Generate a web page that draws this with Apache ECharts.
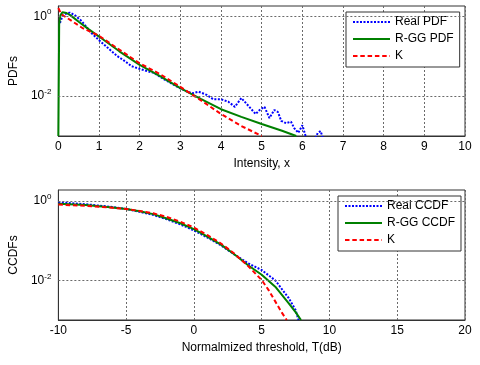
<!DOCTYPE html>
<html>
<head>
<meta charset="utf-8">
<script src="https://cdn.jsdelivr.net/npm/echarts@6.0.0/dist/echarts.min.js"></script>
<style>
    html, body {margin: 0; padding: 0; background: #fff;}
    #chart {width: 480px; height: 365px;}
</style>
</head>
<body>
<div id="chart"></div>
<script>
// PDF panel (x = intensity)
var pdfRealX = [0.04, 0.1, 0.2, 0.28, 0.4, 0.57, 0.7, 0.81, 1.0, 1.2, 1.45, 1.6, 1.8, 2.0, 2.2, 2.35, 2.6, 2.8, 3.0,
    3.15, 3.29, 3.45, 3.65, 3.81, 4.0, 4.18, 4.34, 4.5, 4.66, 4.85, 4.95, 5.07, 5.19, 5.31, 5.4, 5.48, 5.6,
    5.72, 5.8, 5.9, 6.0, 6.08, 6.15, 6.3, 6.38, 6.45, 6.52];
var pdfRealY = [0.676, 1.0, 1.175, 1.23, 1.07, 0.759, 0.525, 0.38, 0.251, 0.166, 0.1, 0.0794, 0.0562, 0.0479,
    0.0417, 0.038, 0.0263, 0.02, 0.0155, 0.0132, 0.0117, 0.0129, 0.0107, 0.0083, 0.0083, 0.00724, 0.00537,
    0.00891, 0.00589, 0.00355, 0.00447, 0.00537, 0.00282, 0.00447, 0.00398, 0.0024, 0.00209, 0.00229,
    0.00158, 0.0012, 0.00186, 0.001, 0.0007, 0.00079, 0.0012, 0.00132, 0.00079];
var pdfRggX = [0, 0.02, 0.05, 0.1, 0.2, 0.3, 0.5, 0.75, 1, 1.5, 2, 2.5, 3, 3.5, 4, 4.5, 5, 5.5, 5.85];
var pdfRggY = [0.001, 0.631, 1.047, 1.259, 1.202, 1.047, 0.724, 0.468, 0.309, 0.132, 0.0603, 0.0316, 0.0158,
    0.00851, 0.00468, 0.00302, 0.002, 0.00135, 0.001];
var pdfKX = [0, 0.05, 0.1, 0.3, 0.6, 1, 1.5, 2, 2.5, 3, 3.5, 4, 4.5, 5];
var pdfKY = [1.6, 1.26, 1.07, 0.794, 0.5, 0.324, 0.145, 0.066, 0.0355, 0.017, 0.0079, 0.00355, 0.00178, 0.001];

// CCDF panel (x = normalized threshold in dB)
var ccdfRealX = [-10, -8, -6, -5, -4, -3, -2, -1, 0, 1, 2, 3, 4, 5, 6, 7, 7.5, 7.72];
var ccdfRealY = [0.933, 0.832, 0.708, 0.631, 0.537, 0.447, 0.347, 0.257, 0.182, 0.12, 0.0759, 0.0447, 0.0269,
    0.0182, 0.01, 0.00355, 0.00178, 0.001];
var ccdfRggX = [-10, -8, -6, -5, -4, -3, -2, -1, 0, 1, 2, 3, 4, 5, 6, 7, 7.5, 7.9];
var ccdfRggY = [0.851, 0.794, 0.692, 0.631, 0.55, 0.468, 0.363, 0.275, 0.195, 0.126, 0.0794, 0.0447, 0.024,
    0.0138, 0.00692, 0.00263, 0.00158, 0.001];
var ccdfKX = [-10, -8, -6, -5, -4, -3, -2, -1, 0, 1, 2, 3, 4, 5, 5.5, 6, 6.5, 6.85];
var ccdfKY = [0.813, 0.759, 0.676, 0.631, 0.562, 0.49, 0.398, 0.302, 0.214, 0.138, 0.0851, 0.0468, 0.0229,
    0.0102, 0.00575, 0.00295, 0.00151, 0.001];

var topNames = ['Real PDF', 'R-GG PDF', 'K'];
var bottomNames = ['Real CCDF', 'R-GG CCDF', 'K'];
var logGridValues = [1, 0.01];

var fontFamily = '"Liberation Sans", Arial, sans-serif';
var gridLineStyle = {color: '#6a6a6a', type: [2, 2], width: 1};

function pairs(xs, ys) {
    var data = [];
    for (var i = 0; i < xs.length; i++) {
        data.push([xs[i], ys[i]]);
    }
    return data;
}

function lineSeries(name, idx, xs, ys, color, type, gridLines) {
    var s = {
        name: name,
        type: 'line',
        xAxisIndex: idx,
        yAxisIndex: idx,
        data: pairs(xs, ys),
        symbol: 'none',
        showSymbol: false,
        clip: true,
        animation: false,
        lineStyle: {color: color, type: type, width: 2},
        itemStyle: {color: color}
    };
    if (gridLines) {
        // MATLAB-style grid only at labelled decades
        s.markLine = {
            silent: true,
            animation: false,
            symbol: ['none', 'none'],
            label: {show: false},
            lineStyle: gridLineStyle,
            data: logGridValues.map(function (v) {
                return {yAxis: v};
            })
        };
    }
    return s;
}

function logLabel(value) {
    var e = Math.round(Math.log10(value));
    if (Math.abs(Math.log10(value) - e) > 1e-6) return '';
    if (e === 0 || e === -2) {
        return '{b|10}{s|' + e + '}';
    }
    return '';
}

function xAxis(idx, min, max, interval, name) {
    return {
        type: 'value',
        gridIndex: idx,
        min: min,
        max: max,
        interval: interval,
        name: name,
        nameLocation: 'middle',
        nameGap: 22,
        nameTextStyle: {color: '#000', fontSize: 12, fontFamily: fontFamily},
        axisLine: {onZero: false, lineStyle: {color: '#333'}},
        axisTick: {show: false},
        axisLabel: {color: '#000', fontSize: 12, margin: 5, fontFamily: fontFamily},
        splitLine: {show: true, lineStyle: gridLineStyle}
    };
}

function yAxis(idx, max, name) {
    return {
        type: 'log',
        logBase: 10,
        gridIndex: idx,
        min: 0.001,
        max: max,
        name: name,
        nameLocation: 'middle',
        nameGap: 35,
        nameTextStyle: {color: '#000', fontSize: 12, fontFamily: fontFamily},
        axisLine: {show: true, onZero: false, lineStyle: {color: '#333'}},
        axisTick: {show: false},
        splitLine: {show: false},
        axisLabel: {
            margin: 7,
            formatter: logLabel,
            rich: {
                b: {fontSize: 12, color: '#000', fontFamily: fontFamily, verticalAlign: 'middle', padding: [2, 0, 2, 0]},
                s: {fontSize: 8, color: '#000', fontFamily: fontFamily, verticalAlign: 'top'}
            }
        }
    };
}

function legend(left, top, names) {
    return {
        orient: 'vertical',
        left: left,
        top: top,
        data: names,
        itemWidth: 37,
        itemHeight: 14,
        itemGap: 5,
        padding: [4, 6, 5, 6],
        borderColor: '#333',
        borderWidth: 1,
        backgroundColor: '#fff',
        selectedMode: false,
        itemStyle: {opacity: 0},
        textStyle: {color: '#000', fontSize: 12, fontFamily: fontFamily}
    };
}

var chart = echarts.init(document.getElementById('chart'), null, {renderer: 'canvas'});
var option = {
    backgroundColor: '#fff',
    animation: false,
    textStyle: {fontFamily: fontFamily},
    grid: [
        {left: 53, right: 15, top: 6, height: 130, show: true, borderColor: '#333', borderWidth: 1},
        {left: 53, right: 15, top: 190, height: 130, show: true, borderColor: '#333', borderWidth: 1}
    ],
    xAxis: [
        xAxis(0, 0, 10, 1, 'Intensity, x'),
        xAxis(1, -10, 20, 5, 'Normalmized threshold, T(dB)')
    ],
    yAxis: [
        yAxis(0, 1.8, 'PDFs'),
        yAxis(1, 1.9, 'CCDFs')
    ],
    legend: [
        legend(346, 12, topNames),
        legend(338, 196, bottomNames)
    ],
    series: [
        lineSeries(topNames[0], 0, pdfRealX, pdfRealY, '#0000ff', [2, 1.5], true),
        lineSeries(topNames[1], 0, pdfRggX, pdfRggY, '#008000', 'solid'),
        lineSeries(topNames[2], 0, pdfKX, pdfKY, '#ff0000', [4.5, 2.8]),
        lineSeries(bottomNames[0], 1, ccdfRealX, ccdfRealY, '#0000ff', [2, 1.5], true),
        lineSeries(bottomNames[1], 1, ccdfRggX, ccdfRggY, '#008000', 'solid'),
        lineSeries(bottomNames[2], 1, ccdfKX, ccdfKY, '#ff0000', [4.5, 2.8])
    ]
};
chart.setOption(option);
</script>
</body>
</html>
